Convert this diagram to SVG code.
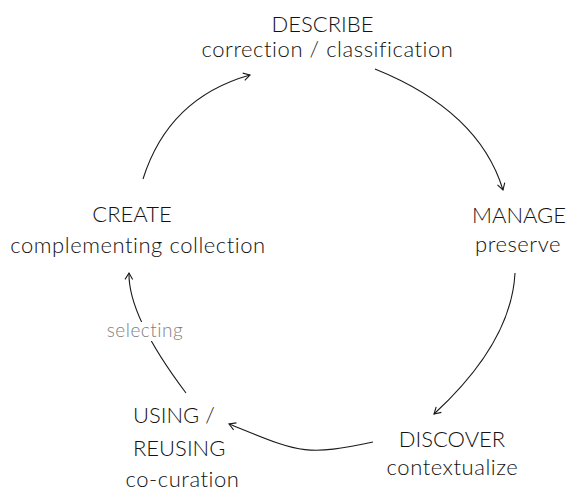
<svg xmlns="http://www.w3.org/2000/svg" width="574" height="489" viewBox="0 0 574 489">
  <style>
    text { font-family: Lato, "Liberation Sans", sans-serif; font-weight: 300; font-variant-ligatures: none; }
    .title { font-size: 22px; fill: #121212; }
    .sub { font-size: 22px; fill: #121212; letter-spacing: 0.55px; }
    .edge-label { font-size: 19px; fill: #808080; letter-spacing: 0.5px; }
    .arc { fill: none; stroke: #1a1a1a; stroke-width: 1.1; marker-end: url(#open-arrow); }
  </style>
  <defs>
    <marker id="open-arrow" markerUnits="userSpaceOnUse" markerWidth="12" markerHeight="12" viewBox="-8 -6 10 12" refX="0" refY="0" orient="auto">
      <path d="M-6.5,-3.8 L0,0 L-6.5,3.8" fill="none" stroke="#1a1a1a" stroke-width="1.1"/>
    </marker>
  </defs>

  <rect width="574" height="489" fill="#ffffff"/>

  <!-- cycle connectors -->
  <g id="connectors">
    <path id="create-describe" class="arc" d="M143,179 Q168.5,98 250,75"/>
    <path id="describe-manage" class="arc" d="M375,69 Q479,111 503,190"/>
    <path id="manage-discover" class="arc" d="M515,273 Q511.5,342.5 434,414"/>
    <path id="discover-using" class="arc" d="M373,442 C303,457 299,452 229,424"/>
    <path id="using-create" class="arc" d="M186,393 Q128,316 129,273"/>
    <!-- label on the using → create connector -->
    <g id="label-selecting">
      <rect x="104" y="322" width="82" height="19" fill="#ffffff"/>
      <text class="edge-label" x="145" y="337" text-anchor="middle">selecting</text>
    </g>
  </g>

  <g id="describe">
    <text class="title" x="322.5" y="31.5" text-anchor="middle">DESCRIBE</text>
    <text class="sub" x="327.5" y="57" text-anchor="middle">correction / classification</text>
  </g>

  <g id="manage">
    <text class="title" x="519" y="223" text-anchor="middle">MANAGE</text>
    <text class="sub" x="518" y="252" text-anchor="middle">preserve</text>
  </g>

  <g id="discover">
    <text class="title" x="452" y="447" text-anchor="middle">DISCOVER</text>
    <text class="sub" x="452.5" y="475" text-anchor="middle">contextualize</text>
  </g>

  <g id="using-reusing">
    <text class="title" x="133" y="423">USING /</text>
    <text class="title" x="133" y="456">REUSING</text>
    <text class="sub" x="182.5" y="486.5" text-anchor="middle">co-curation</text>
  </g>

  <g id="create">
    <text class="title" x="132" y="222" text-anchor="middle">CREATE</text>
    <text class="sub" x="138" y="253" text-anchor="middle">complementing collection</text>
  </g>
</svg>
